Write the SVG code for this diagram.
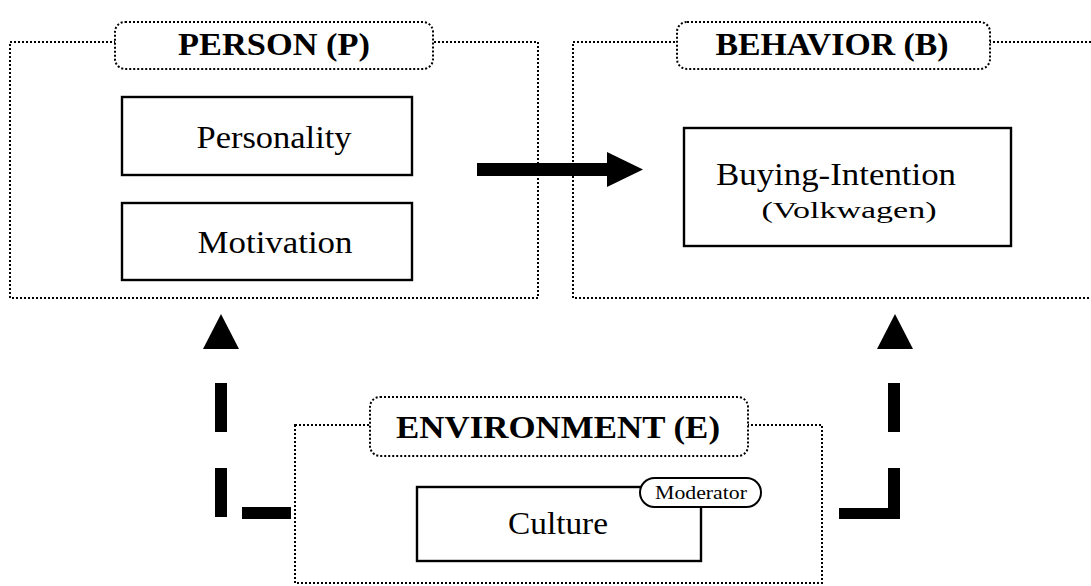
<svg xmlns="http://www.w3.org/2000/svg" width="1091" height="586" viewBox="0 0 1091 586">
  <style>
    .frame { fill: none; stroke: #000; stroke-width: 2; stroke-dasharray: 2 2; }
    .tag { fill: #fff; stroke: #000; stroke-width: 2; stroke-dasharray: 2 2; }
    .box { fill: #fff; stroke: #000; stroke-width: 2.4; }
    .title { font-family: "Liberation Serif", "Times New Roman", serif; font-weight: bold; font-size: 32px; text-anchor: middle; fill: #000; }
    .label { font-family: "Liberation Serif", "Times New Roman", serif; font-size: 32px; text-anchor: middle; fill: #000; }
    .small { font-family: "Liberation Serif", "Times New Roman", serif; font-size: 23px; text-anchor: middle; fill: #000; }
    .tiny { font-family: "Liberation Serif", "Times New Roman", serif; font-size: 18px; text-anchor: middle; fill: #000; }
    .ink { fill: #000; }
  </style>
  <rect width="1091" height="586" fill="#fff"/>

  <!-- Person block -->
  <g id="person">
    <rect class="frame" x="10" y="42" width="528" height="256"/>
    <rect class="tag" x="115" y="22" width="318" height="47" rx="10"/>
    <text class="title" x="274" y="55" textLength="192" lengthAdjust="spacingAndGlyphs">PERSON (P)</text>
  </g>
  <g id="personality">
    <rect class="box" x="122" y="97" width="290" height="78"/>
    <text class="label" x="274" y="148" textLength="155" lengthAdjust="spacingAndGlyphs">Personality</text>
  </g>
  <g id="motivation">
    <rect class="box" x="122" y="203" width="290" height="77"/>
    <text class="label" x="275" y="253" textLength="155" lengthAdjust="spacingAndGlyphs">Motivation</text>
  </g>

  <!-- Behavior block -->
  <g id="behavior">
    <rect class="frame" x="573" y="42" width="540" height="256"/>
    <rect class="tag" x="677" y="22" width="313" height="47" rx="10"/>
    <text class="title" x="832" y="55" textLength="233" lengthAdjust="spacingAndGlyphs">BEHAVIOR (B)</text>
  </g>
  <g id="buying-intention">
    <rect class="box" x="684" y="128" width="327" height="118"/>
    <text class="label" x="836" y="185" textLength="240" lengthAdjust="spacingAndGlyphs">Buying-Intention</text>
    <text class="small" x="849" y="218" textLength="175" lengthAdjust="spacingAndGlyphs">(Volkwagen)</text>
  </g>

  <!-- Environment block -->
  <g id="environment">
    <rect class="frame" x="295" y="425" width="527" height="158"/>
    <rect class="tag" x="370" y="397" width="378" height="59" rx="10"/>
    <text class="title" x="558" y="438" textLength="324" lengthAdjust="spacingAndGlyphs">ENVIRONMENT (E)</text>
  </g>
  <g id="culture">
    <rect class="box" x="417" y="487" width="284" height="74"/>
    <text class="label" x="558" y="534" textLength="100" lengthAdjust="spacingAndGlyphs">Culture</text>
    <rect x="640" y="478" width="121" height="29" rx="14.5" fill="#fff" stroke="#000" stroke-width="2"/>
    <text class="tiny" x="701" y="499" textLength="92" lengthAdjust="spacingAndGlyphs">Moderator</text>
  </g>

  <!-- Connectors -->
  <g id="connectors">
    <!-- person to behavior -->
    <rect class="ink" x="477" y="163" width="132" height="13"/>
    <polygon class="ink" points="607,152 643,169.5 607,187"/>
    <!-- environment to person (dashed) -->
    <rect class="ink" x="242" y="507" width="49" height="12"/>
    <rect class="ink" x="215" y="468" width="12" height="49"/>
    <rect class="ink" x="215" y="383" width="12" height="49"/>
    <polygon class="ink" points="221,314 239,349 203,349"/>
    <!-- environment to behavior (dashed) -->
    <rect class="ink" x="839" y="508" width="49" height="11"/>
    <rect class="ink" x="888" y="468" width="12" height="51"/>
    <rect class="ink" x="888" y="383" width="12" height="49"/>
    <polygon class="ink" points="895,314 913,349 877,349"/>
  </g>
</svg>
